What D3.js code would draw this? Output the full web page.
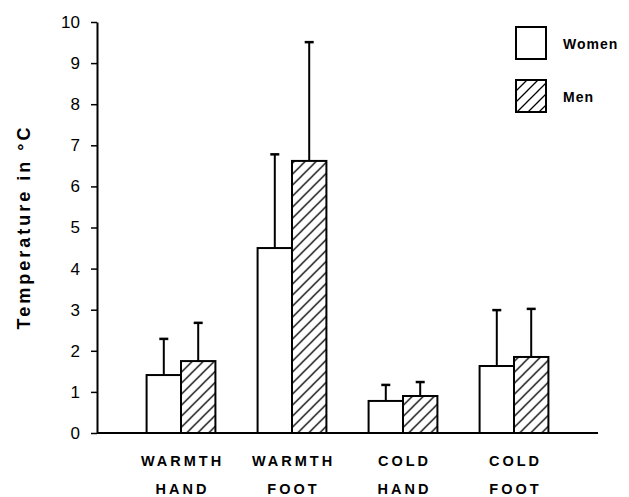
<!DOCTYPE html>
<html>
<head>
<meta charset="utf-8">
<script src="https://cdn.jsdelivr.net/npm/d3@7"></script>
<style>
  body { margin: 0; background: #fff; }
  text { font-family: "Liberation Sans", Arial, sans-serif; fill: #000; }
</style>
</head>
<body>
<div id="chart"></div>
<script>
// Data
const categories = [["WARMTH", "HAND"], ["WARMTH", "FOOT"], ["COLD", "HAND"], ["COLD", "FOOT"]];
const series = ["Women", "Men"];
const womenMean = [1.41, 4.5, 0.78, 1.63];
const womenErr = [2.29, 6.78, 1.17, 2.99];
const menMean = [1.75, 6.62, 0.9, 1.85];
const menErr = [2.68, 9.51, 1.24, 3.02];
const yTicks = [0, 1, 2, 3, 4, 5, 6, 7, 8, 9, 10];

const width = 629, height = 497;
const svg = d3.select("#chart").append("svg")
    .attr("width", width)
    .attr("height", height);

// hatch pattern for Men
const defs = svg.append("defs");
const pat = defs.append("pattern")
    .attr("id", "hatch")
    .attr("patternUnits", "userSpaceOnUse")
    .attr("width", 11)
    .attr("height", 11);
pat.append("rect").attr("width", 11).attr("height", 11).attr("fill", "#fff");
pat.append("path")
    .attr("d", "M-1,1 L1,-1 M0,11 L11,0 M10,12 L12,10")
    .attr("stroke", "#000")
    .attr("stroke-width", 1.3);

// Scales
const y = d3.scaleLinear().domain([0, 10]).range([433, 22]);
const keys = categories.map(d => d.join(" "));
const x0 = d3.scaleBand()
    .domain(keys)
    .range([125.5, 569.5])
    .paddingInner(0.38)
    .paddingOuter(0.19);
const x1 = d3.scaleBand()
    .domain(series)
    .range([0, x0.bandwidth()]);

const rows = keys.map((k, i) => ({
    key: k,
    values: [
        { s: "Women", mean: womenMean[i], err: womenErr[i] },
        { s: "Men", mean: menMean[i], err: menErr[i] }
    ]
}));

// Y axis
const yAxis = svg.append("g")
    .attr("transform", "translate(97,0)")
    .call(d3.axisLeft(y).tickValues(yTicks).tickSize(6).tickSizeOuter(0).tickPadding(11));
yAxis.select(".domain").attr("stroke-width", 2);
yAxis.selectAll(".tick line").attr("stroke-width", 1.5);
yAxis.selectAll(".tick text")
    .style("font-size", "17px")
    .style("font-family", "'Liberation Sans', Arial, sans-serif");

// X axis baseline
svg.append("line")
    .attr("x1", 97).attr("x2", 598)
    .attr("y1", y(0)).attr("y2", y(0))
    .attr("stroke", "#000")
    .attr("stroke-width", 2);

// Bars
const groups = svg.selectAll(".grp")
    .data(rows)
    .join("g")
    .attr("class", "grp")
    .attr("transform", d => `translate(${x0(d.key)},0)`);

groups.selectAll(".err")
    .data(d => d.values)
    .join("g")
    .attr("class", "err")
    .each(function(d) {
        const g = d3.select(this);
        const cx = x1(d.s) + x1.bandwidth() / 2;
        g.append("line")
            .attr("x1", cx).attr("x2", cx)
            .attr("y1", y(d.mean)).attr("y2", y(d.err))
            .attr("stroke", "#000").attr("stroke-width", 2);
        g.append("line")
            .attr("x1", cx - 4.5).attr("x2", cx + 4.5)
            .attr("y1", y(d.err)).attr("y2", y(d.err))
            .attr("stroke", "#000").attr("stroke-width", 2.5);
    });

groups.selectAll("rect")
    .data(d => d.values)
    .join("rect")
    .attr("x", d => x1(d.s))
    .attr("y", d => y(d.mean))
    .attr("width", x1.bandwidth())
    .attr("height", d => y(0) - y(d.mean))
    .attr("fill", d => d.s === "Men" ? "url(#hatch)" : "#fff")
    .attr("stroke", "#000")
    .attr("stroke-width", 2);

// Category labels
categories.forEach((c, i) => {
    const cx = x0(keys[i]) + x0.bandwidth() / 2;
    c.forEach((line, j) => {
        svg.append("text")
            .attr("x", cx + 1.5)
            .attr("y", 466 + j * 28)
            .attr("text-anchor", "middle")
            .style("font-size", "14.5px")
            .style("font-weight", "bold")
            .style("letter-spacing", "3px")
            .text(line);
    });
});

// Y axis title
svg.append("text")
    .attr("transform", "translate(30,227) rotate(-90)")
    .attr("text-anchor", "middle")
    .style("font-size", "18px")
    .style("font-weight", "bold")
    .style("letter-spacing", "3px")
    .text("Temperature in °C");

// Legend
const legend = svg.append("g").attr("transform", "translate(516,27)");
series.forEach((s, i) => {
    const row = legend.append("g").attr("transform", `translate(0,${i * 53})`);
    row.append("rect")
        .attr("width", 30)
        .attr("height", 32)
        .attr("fill", s === "Men" ? "url(#hatch)" : "#fff")
        .attr("stroke", "#000")
        .attr("stroke-width", 2);
    row.append("text")
        .attr("x", 47)
        .attr("y", 22)
        .style("font-size", "14px")
        .style("font-weight", "bold")
        .style("letter-spacing", "1px")
        .text(s);
});
</script>
</body>
</html>
